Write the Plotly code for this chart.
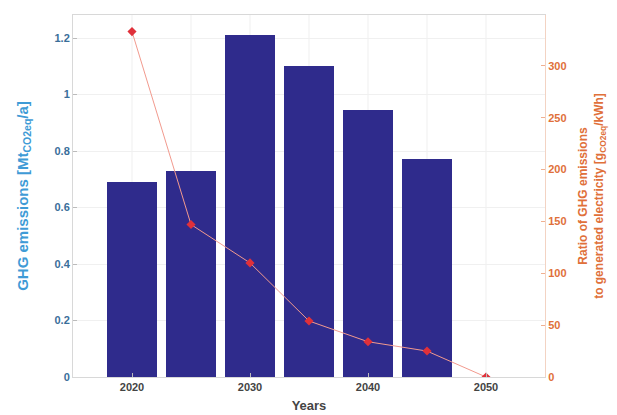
import plotly.graph_objects as go

years = [2020, 2025, 2030, 2035, 2040, 2045]
emissions = [0.69, 0.73, 1.21, 1.10, 0.947, 0.772]
ratio_years = [2020, 2025, 2030, 2035, 2040, 2045, 2050]
ratio = [333, 147, 110, 54, 34, 25, 0]

left_ticks = [0, 0.2, 0.4, 0.6, 0.8, 1, 1.2]
left_labels = ["0", "0.2", "0.4", "0.6", "0.8", "1", "1.2"]
right_ticks = [0, 50, 100, 150, 200, 250, 300]
x_ticks = [2020, 2030, 2040, 2050]

blue = "#2F2B8C"
left_col = "#3F9BD6"
right_col = "#E0703A"
font = "Liberation Sans, Arial, sans-serif"

fig = go.Figure()
fig.add_trace(go.Bar(x=years, y=emissions, width=4.2, marker=dict(color=blue, line=dict(width=0)),
                     yaxis="y", showlegend=False))
fig.add_trace(go.Scatter(x=ratio_years, y=ratio, mode="lines+markers", yaxis="y2",
                         line=dict(color="#F29A8E", width=1),
                         marker=dict(symbol="diamond", size=7, color="#E0303A"),
                         showlegend=False))

fig.update_layout(
    width=617, height=415,
    margin=dict(l=65, r=80, t=7, b=46),
    paper_bgcolor="white", plot_bgcolor="white",
    font=dict(family=font, size=11),
    bargap=0,
    xaxis=dict(range=[2015, 2055], tickvals=x_ticks, ticktext=[str(v) for v in x_ticks],
               tickfont=dict(color="#444", size=11, weight="bold"),
               showgrid=False, showline=True, linecolor="#D8D8D8", mirror=True,
               ticks="inside", ticklen=4, tickcolor="#BBB",
               title=dict(text="Years", font=dict(size=13, color="#444", weight="bold"), standoff=8),
               zeroline=False),
    yaxis=dict(range=[0, 1.282], tickvals=left_ticks, ticktext=left_labels,
               tickfont=dict(color="#3A6E9A", size=11, weight="bold"),
               showgrid=True, gridcolor="#F0F0F0", showline=True, linecolor="#D8D8D8",
               ticks="inside", ticklen=4, tickcolor="#BBB", zeroline=False,
               title=dict(text="GHG emissions [Mt<sub>CO2eq</sub>/a]",
                          font=dict(size=15, color=left_col, weight="bold"), standoff=22)),
    yaxis2=dict(range=[0, 349], tickvals=right_ticks, overlaying="y", side="right",
                tickfont=dict(color=right_col, size=11, weight="bold"),
                showgrid=False, showline=True, linecolor="#F3D3C3",
                ticks="inside", ticklen=4, tickcolor="#F0B090", zeroline=False,
                title=dict(text="Ratio of GHG emissions<br>to generated electricity [g<sub>CO2eq</sub>/kWh]",
                           font=dict(size=12, color=right_col, weight="bold"), standoff=13)),
)

# faint vertical grid every 5 years
for gx in [2020, 2025, 2030, 2035, 2040, 2045, 2050]:
    fig.add_shape(type="line", x0=gx, x1=gx, y0=0, y1=1, xref="x", yref="paper",
                  line=dict(color="#EFEFEF", width=1), layer="below")

fig.write_html("out.html")
